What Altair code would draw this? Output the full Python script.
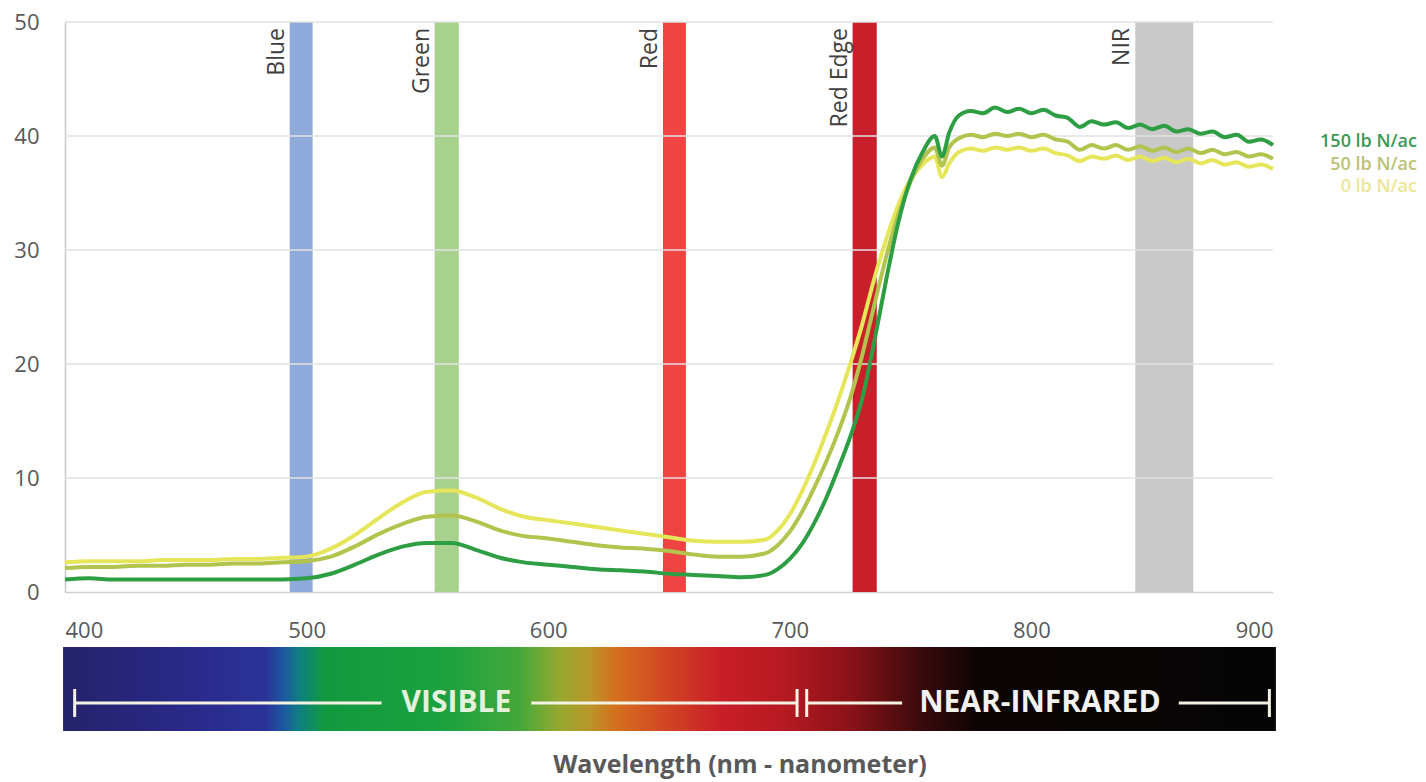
import altair as alt
import pandas as pd

# ---------------- data ----------------
wavelength = [400, 410, 420, 430, 440, 450, 460, 470, 480, 490,
              500, 510, 520, 530, 540, 550, 560, 570, 580, 590,
              600, 610, 620, 630, 640, 650, 660, 670, 680, 690,
              695, 700, 705, 710, 715, 720, 725, 730, 735, 740, 745, 750, 755, 760,
              763, 766,
              770, 775, 780, 785, 790, 795, 800, 805, 810, 815, 820, 825, 830, 835,
              840, 845, 850, 855, 860, 865, 870, 875, 880, 885, 890, 895, 900]

n150 = [1.1, 1.2, 1.1, 1.1, 1.1, 1.1, 1.1, 1.1, 1.1, 1.1,
        1.2, 1.6, 2.4, 3.3, 4.0, 4.3, 4.3, 3.7, 3.0, 2.6,
        2.4, 2.2, 2.0, 1.9, 1.8, 1.6, 1.5, 1.4, 1.3, 1.5,
        2.0, 2.9, 4.2, 6.0, 8.2, 10.8, 13.6, 17.0, 22.0, 27.5, 32.5, 36.2, 38.6, 40.0,
        38.2, 40.3,
        41.8, 42.2, 42.0, 42.5, 42.1, 42.4, 42.0, 42.3, 41.8, 41.6, 40.8, 41.3, 41.0, 41.2,
        40.7, 41.0, 40.6, 40.9, 40.4, 40.6, 40.2, 40.4, 39.9, 40.1, 39.5, 39.7, 39.2]

n50 = [2.1, 2.2, 2.2, 2.3, 2.3, 2.4, 2.4, 2.5, 2.5, 2.6,
       2.7, 3.1, 4.0, 5.1, 6.0, 6.6, 6.7, 6.2, 5.4, 4.9,
       4.7, 4.4, 4.1, 3.9, 3.8, 3.6, 3.3, 3.1, 3.1, 3.4,
       4.1, 5.3, 7.0, 9.1, 11.4, 14.0, 17.0, 20.8, 25.2, 29.5, 33.2, 36.0, 38.0, 39.0,
       37.4, 39.0,
       39.8, 40.1, 39.9, 40.2, 40.0, 40.2, 39.9, 40.1, 39.7, 39.5, 38.8, 39.2, 38.9, 39.2,
       38.8, 39.1, 38.7, 39.0, 38.6, 38.9, 38.5, 38.8, 38.4, 38.6, 38.2, 38.4, 38.0]

n0 = [2.6, 2.7, 2.7, 2.7, 2.8, 2.8, 2.8, 2.9, 2.9, 3.0,
      3.1, 3.8, 5.0, 6.5, 7.9, 8.8, 8.9, 8.3, 7.3, 6.6,
      6.3, 6.0, 5.7, 5.4, 5.1, 4.8, 4.5, 4.4, 4.4, 4.6,
      5.4, 6.8, 8.8, 11.2, 13.9, 16.8, 20.0, 23.5, 27.5, 31.0, 34.0, 36.2, 37.5, 38.2,
      36.4, 37.6,
      38.6, 38.9, 38.7, 39.0, 38.8, 39.0, 38.7, 38.9, 38.5, 38.3, 37.8, 38.2, 38.0, 38.3,
      37.9, 38.2, 37.8, 38.1, 37.7, 38.0, 37.6, 37.9, 37.5, 37.7, 37.3, 37.5, 37.1]

series_names = ["150 lb N/ac", "50 lb N/ac", "0 lb N/ac"]
series_colors = ["#2e9e44", "#b2c44e", "#e6e65a"]
label_colors = ["#3a9a58", "#bcc278", "#ece698"]
label_y = [39.5, 37.5, 35.5]

band_names = ["Blue", "Green", "Red", "Red Edge", "NIR"]
band_start = [493, 553, 647.5, 726, 843]
band_end = [502.5, 563, 657, 736, 867]
band_colors = ["#8eaadb", "#a9d18e", "#ef4444", "#c8202a", "#c9c9c9"]

x_ticks = [400, 500, 600, 700, 800, 900]
y_ticks = [0, 10, 20, 30, 40, 50]
grid_vals = [10, 20, 30, 40, 50]

spectrum_range = [399.2, 901.2]
spectrum_stops = [(0.0, "#24226a"), (0.113, "#2a2a8c"), (0.167, "#2a3398"), (0.183, "#1c5aa0"),
                  (0.195, "#0d8080"), (0.216, "#12993f"), (0.319, "#1da23f"), (0.377, "#45a83a"),
                  (0.41, "#98a830"), (0.434, "#b8962a"), (0.455, "#d4701e"), (0.492, "#d24a22"),
                  (0.542, "#c81e28"), (0.591, "#b81a22"), (0.649, "#8a1218"), (0.707, "#3a0a0c"),
                  (0.756, "#0c0404"), (1.0, "#050505")]

seg_start = [404, 593, 707, 861]
seg_end = [531, 703, 746.5, 898.5]
seg_ticks = [404, 703, 707, 898.5]
region_names = ["VISIBLE", "NEAR-INFRARED"]
region_pos = [562, 803.5]
region_colors = ["#e4f2dc", "#f2f2f2"]

x_title = "Wavelength (nm - nanometer)"

FONT = "Open Sans"
W, H = 1208, 570

# ---------------- scales ----------------
xs = alt.Scale(domain=[400, 900], nice=False, zero=False)
ys = alt.Scale(domain=[0, 50], nice=False, zero=False)

bands = pd.DataFrame({"name": band_names, "start": band_start, "end": band_end, "color": band_colors})

band_rect = alt.Chart(bands).mark_rect().encode(
    x=alt.X("start:Q", scale=xs,
            axis=alt.Axis(values=x_ticks, title=None, grid=False, ticks=False, labelPadding=28,
                          labelFontSize=22, labelColor="#595959", labelFont=FONT,
                          domainColor="#d0d0d0", domainWidth=1.5)),
    x2="end:Q",
    y=alt.Y(datum=50, type="quantitative", scale=ys,
            axis=alt.Axis(values=y_ticks, title=None, grid=False, ticks=False, labelPadding=26,
                          labelFontSize=22, labelColor="#595959", labelFont=FONT,
                          domainColor="#c8c8c8", domainWidth=1.5)),
    y2=alt.datum(0),
    color=alt.Color("color:N", scale=None),
)

grid = alt.Chart(pd.DataFrame({"g": grid_vals})).mark_rule(color="#e2e2e2", strokeWidth=1.5).encode(
    y=alt.Y("g:Q", scale=ys)
)

band_text = alt.Chart(bands).mark_text(
    angle=270, align="right", baseline="bottom", dy=-1, fontSize=23, font=FONT, color="#404040"
).encode(
    x=alt.X("start:Q", scale=xs),
    y=alt.value(6),
    text="name:N",
)

def line_layer(vals, color):
    df = pd.DataFrame({"wl": wavelength, "v": vals})
    return alt.Chart(df).mark_line(color=color, strokeWidth=4, interpolate="monotone").encode(
        x=alt.X("wl:Q", scale=xs),
        y=alt.Y("v:Q", scale=ys),
    )

lines = [line_layer(n0, series_colors[2]), line_layer(n50, series_colors[1]), line_layer(n150, series_colors[0])]

legend_df = pd.DataFrame({"name": series_names, "y": label_y, "c": label_colors})
legend_text = alt.Chart(legend_df).mark_text(
    align="right", baseline="middle", fontSize=18, font=FONT, fontWeight=600
).encode(
    x=alt.value(1352),
    y=alt.Y("y:Q", scale=ys),
    text="name:N",
    color=alt.Color("c:N", scale=None),
)

fill = {"gradient": "linear", "x1": 0, "y1": 0, "x2": 1, "y2": 0,
        "stops": [{"offset": o, "color": c} for o, c in spectrum_stops]}

spectrum = alt.Chart(pd.DataFrame({"a": [spectrum_range[0]], "b": [spectrum_range[1]]})).mark_rect(
    fill=fill
).encode(
    x=alt.X("a:Q", scale=xs),
    x2="b:Q",
    y=alt.value(625),
    y2=alt.value(709),
)

segs = alt.Chart(pd.DataFrame({"s": seg_start, "e": seg_end})).mark_rule(
    color="#f4f2e2", strokeWidth=3
).encode(
    x=alt.X("s:Q", scale=xs), x2="e:Q", y=alt.value(681)
)

ticks = alt.Chart(pd.DataFrame({"t": seg_ticks})).mark_rule(
    color="#f4f2e2", strokeWidth=3
).encode(
    x=alt.X("t:Q", scale=xs), y=alt.value(667), y2=alt.value(695)
)

region_text = alt.Chart(pd.DataFrame({"n": region_names, "p": region_pos, "c": region_colors})).mark_text(
    baseline="middle", align="center", fontSize=30, fontWeight="bold", font=FONT
).encode(
    x=alt.X("p:Q", scale=xs), y=alt.value(681), text="n:N", color=alt.Color("c:N", scale=None)
)

title_text = alt.Chart(pd.DataFrame({"t": [x_title]})).mark_text(
    baseline="middle", align="center", fontSize=25, fontWeight="bold", font=FONT, color="#595959"
).encode(
    x=alt.value(675), y=alt.value(743), text="t:N"
)

chart = alt.layer(
    band_rect, grid, band_text, *lines, legend_text, spectrum, segs, ticks, region_text, title_text
).properties(
    width=W, height=H,
    autosize=alt.AutoSizeParams(type="none"),
    padding={"left": 65, "top": 22, "right": 1426 - 65 - W, "bottom": 782 - 22 - H},
    background="white",
).configure_view(strokeWidth=0)

chart.save("out.html", embed_options={"renderer": "svg", "actions": False})
